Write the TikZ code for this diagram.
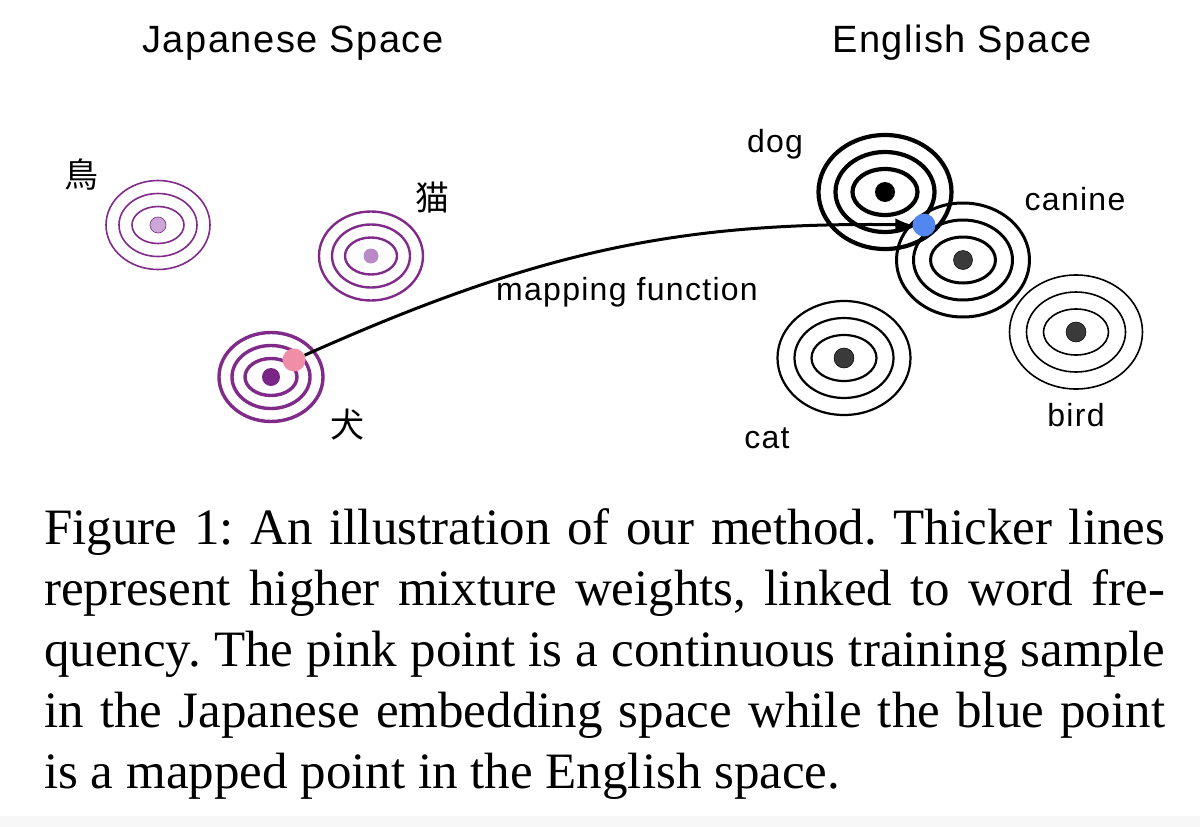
\documentclass[tikz,border=0pt]{standalone}
\usepackage{fontspec}
\setmainfont{Liberation Serif}
\newfontfamily\labelfont[LetterSpace=4]{Liberation Sans}
\newfontfamily\jpfont{Noto Sans CJK JP}
\usetikzlibrary{%
  positioning,
  arrows.meta
}
\definecolor{jppurple}{RGB}{128,42,138}
\definecolor{torifill}{RGB}{204,166,214}
\definecolor{nekofill}{RGB}{184,138,198}
\definecolor{inufill}{RGB}{122,38,134}
\definecolor{engray}{RGB}{58,58,58}
\definecolor{pinkpt}{RGB}{240,142,166}
\definecolor{bluept}{RGB}{82,134,240}
\tikzset{
  jpring/.style = {draw = jppurple},
  enring/.style = {draw = black},
  spot/.style = {circle, inner sep = 0, minimum size = #1},
  map/.style = {line width = 3pt, -{Latex[length = 17pt, width = 13pt]}},
  captiontext/.style = {anchor = north west, inner sep = 0, text width = 1121pt,
    align = justify, font = \fontsize{51}{61}\selectfont\frenchspacing}
}

\begin{document}
\begin{tikzpicture}[
      x = 1pt, y = -1pt,
      spacetitle/.style = {font = \labelfont\fontsize{38}{40}\selectfont, anchor = base},
      word/.style = {font = \labelfont\fontsize{32}{34}\selectfont, anchor = base},
      kanji/.style = {font = \jpfont\fontsize{34}{36}\selectfont}
      ]
  \useasboundingbox (0,0) rectangle (1200,827);
  \fill[black!3] (0,816) rectangle (1200,827);

  % centres of the mixtures
  \coordinate (tori)   at (158,225);
  \coordinate (neko)   at (371,256);
  \coordinate (inu)    at (271,377);
  \coordinate (dog)    at (885,192);
  \coordinate (canine) at (963,260);
  \coordinate (cat)    at (844,358);
  \coordinate (bird)   at (1076,332);

  % Japanese space
  \foreach \c/\w in {tori/1.6pt, neko/2.4pt, inu/3.4pt}
    \foreach \k in {0,1,2}
      \draw[jpring, line width = \w] (\c) ellipse [x radius = 52 - 13*\k, y radius = 44.5 - 13*\k];
  \node[spot = 16pt, fill = torifill, draw = jppurple, line width = 0.6pt] (tori-dot) at (tori) {};
  \node[spot = 15pt, fill = nekofill] (neko-dot) at (neko) {};
  \node[spot = 18pt, fill = inufill] (inu-dot) at (inu) {};

  % English space
  \foreach \c/\w in {dog/4.2pt, canine/3pt, cat/2.2pt, bird/1.6pt}
    \foreach \k in {0,1,2}
      \draw[enring, line width = \w] (\c) ellipse [x radius = 66.5 - 17*\k, y radius = 57 - 17*\k];
  \node[spot = 20pt, fill = black] (dog-dot) at (dog) {};
  \node[spot = 19pt, fill = engray, draw = black, line width = 0.5pt] (canine-dot) at (canine) {};
  \node[spot = 20pt, fill = engray, draw = black, line width = 0.5pt] (cat-dot) at (cat) {};
  \node[spot = 20pt, fill = engray, draw = black, line width = 0.5pt] (bird-dot) at (bird) {};

  % the mapping
  \node[spot = 23pt, fill = pinkpt] (sample) at (294,360) {};
  \node[spot = 23pt, fill = bluept] (mapped) at (924,225) {};
  \draw[map] (sample) .. controls (540,250) and (680,222) .. (mapped);

  % labels
  \node[kanji] (tori-label) at (81,175) {鳥};
  \node[kanji] (neko-label) at (432,198) {猫};
  \node[kanji] (inu-label) at (347,425) {犬};
  \node[word] (dog-label) at (775,152) {dog};
  \node[word] (canine-label) at (1075,210) {canine};
  \node[word] (cat-label) at (767,448) {cat};
  \node[word] (bird-label) at (1076,426) {bird};
  \node[word] (map-label) at (627,300) {mapping function};
  \node[spacetitle] (jp-title) at (293,52) {Japanese Space};
  \node[spacetitle] (en-title) at (962,52) {English Space};

  \node[captiontext] (caption) at (44,508) {Figure 1: An illustration of our method. Thicker lines\linebreak
    represent higher mixture weights, linked to word fre-\linebreak
    quency. The pink point is a continuous training sample\linebreak
    in the Japanese embedding space while the blue point\linebreak
    is a mapped point in the English space.};
\end{tikzpicture}
\end{document}
